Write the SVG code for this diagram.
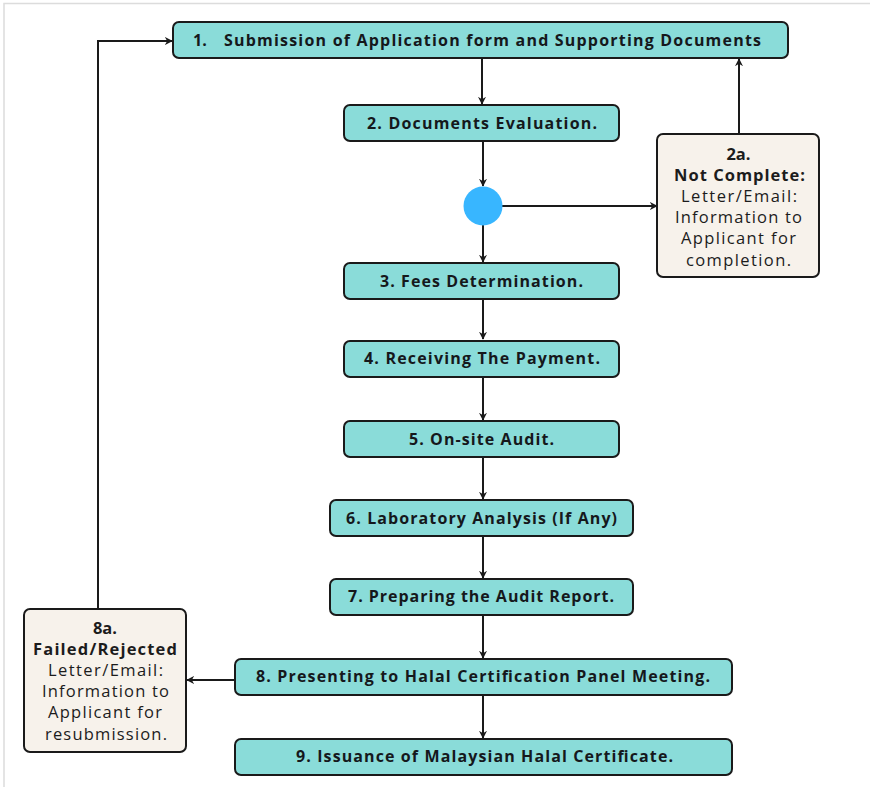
<svg xmlns="http://www.w3.org/2000/svg" width="870" height="787" viewBox="0 0 870 787">
<style>
.step{fill:#8adcd9;stroke:#1a1a1a;stroke-width:2}
.note{fill:#f7f2eb;stroke:#1a1a1a;stroke-width:2}
.t{font-family:"Open Sans","DejaVu Sans",sans-serif;font-size:16px;font-weight:bold;fill:#15181c;text-anchor:middle}
.s{text-anchor:start}
.n{font-family:"Open Sans","DejaVu Sans",sans-serif;font-size:16.5px;fill:#1c1c1c;text-anchor:middle}
.nb{font-weight:bold}
.c{fill:none;stroke:#1a1a1a;stroke-width:2}
</style>
<defs>
<marker id="ah" viewBox="0 0 10 10" refX="9" refY="5" markerWidth="4" markerHeight="4" orient="auto-start-reverse" markerUnits="strokeWidth">
<path d="M0,0 L10,5 L0,10 L3,5 Z" fill="#1a1a1a"/>
</marker>
</defs>
<rect width="870" height="787" fill="#fff"/>
<path d="M4,787 V3.5 H870" fill="none" stroke="#dcdcdc" stroke-width="1.5"/>
<g id="connectors">
<line class="c" x1="482" y1="59" x2="482" y2="104" marker-end="url(#ah)"/>
<line class="c" x1="483" y1="142" x2="483" y2="186" marker-end="url(#ah)"/>
<line class="c" x1="483" y1="225" x2="483" y2="262" marker-end="url(#ah)"/>
<line class="c" x1="502" y1="206" x2="657" y2="206" marker-end="url(#ah)"/>
<line class="c" x1="739" y1="134" x2="739" y2="59" marker-end="url(#ah)"/>
<line class="c" x1="483" y1="300" x2="483" y2="339" marker-end="url(#ah)"/>
<line class="c" x1="483" y1="378" x2="483" y2="420" marker-end="url(#ah)"/>
<line class="c" x1="483" y1="458" x2="483" y2="499" marker-end="url(#ah)"/>
<line class="c" x1="483" y1="537" x2="483" y2="578" marker-end="url(#ah)"/>
<line class="c" x1="483" y1="616" x2="483" y2="658" marker-end="url(#ah)"/>
<line class="c" x1="483" y1="696" x2="483" y2="738" marker-end="url(#ah)"/>
<line class="c" x1="235" y1="680" x2="187" y2="680" marker-end="url(#ah)"/>
<polyline class="c" points="98,609 98,41 172,41" marker-end="url(#ah)"/>
</g>
<g id="n1">
<rect class="step" x="173" y="22" width="615" height="36" rx="6"/>
<text class="t s" x="193" y="45.5">1.</text>
<text class="t s" x="224" y="45.5" textLength="537" lengthAdjust="spacing">Submission of Application form and Supporting Documents</text>
</g>
<g id="n2">
<rect class="step" x="344" y="105" width="275" height="36" rx="6"/>
<text class="t" x="482" y="128.5" textLength="230" lengthAdjust="spacing">2. Documents Evaluation.</text>
</g>
<g id="decision">
<circle cx="483" cy="206" r="19.5" fill="#38b6ff"/>
</g>
<g id="n2a">
<rect class="note" x="657" y="134" width="162" height="143" rx="6"/>
<text class="n nb" x="738.5" y="160">2a.</text>
<text class="n nb" x="739.5" y="181" textLength="131" lengthAdjust="spacing">Not Complete:</text>
<text class="n" x="739" y="202" textLength="116" lengthAdjust="spacing">Letter/Email:</text>
<text class="n" x="738.5" y="223" textLength="127" lengthAdjust="spacing">Information to</text>
<text class="n" x="738.5" y="244" textLength="115" lengthAdjust="spacing">Applicant for</text>
<text class="n" x="738.5" y="266" textLength="105" lengthAdjust="spacing">completion.</text>
</g>
<g id="n3">
<rect class="step" x="344" y="263" width="275" height="36" rx="6"/>
<text class="t" x="481.5" y="286.5" textLength="203" lengthAdjust="spacing">3. Fees Determination.</text>
</g>
<g id="n4">
<rect class="step" x="344" y="341" width="275" height="36" rx="6"/>
<text class="t" x="482" y="364" textLength="236" lengthAdjust="spacing">4. Receiving The Payment.</text>
</g>
<g id="n5">
<rect class="step" x="344" y="421" width="275" height="36" rx="6"/>
<text class="t" x="481.5" y="444.5" textLength="145" lengthAdjust="spacing">5. On-site Audit.</text>
</g>
<g id="n6">
<rect class="step" x="330" y="500" width="303" height="36" rx="6"/>
<text class="t" x="481.5" y="523.5" textLength="271" lengthAdjust="spacing">6. Laboratory Analysis (If Any)</text>
</g>
<g id="n7">
<rect class="step" x="330" y="579" width="303" height="36" rx="6"/>
<text class="t" x="481" y="602" textLength="266" lengthAdjust="spacing">7. Preparing the Audit Report.</text>
</g>
<g id="n8">
<rect class="step" x="235" y="659" width="497" height="36" rx="6"/>
<text class="t" x="483" y="682" textLength="454" lengthAdjust="spacing">8. Presenting to Halal Certification Panel Meeting.</text>
</g>
<g id="n9">
<rect class="step" x="235" y="739" width="497" height="36" rx="6"/>
<text class="t" x="484.5" y="762" textLength="377" lengthAdjust="spacing">9. Issuance of Malaysian Halal Certificate.</text>
</g>
<g id="n8a">
<rect class="note" x="24" y="609" width="162" height="143" rx="6"/>
<text class="n nb" x="105" y="634">8a.</text>
<text class="n nb" x="105" y="655" textLength="144" lengthAdjust="spacing">Failed/Rejected</text>
<text class="n" x="105.5" y="676" textLength="115" lengthAdjust="spacing">Letter/Email:</text>
<text class="n" x="105.5" y="697" textLength="127" lengthAdjust="spacing">Information to</text>
<text class="n" x="105" y="718" textLength="114" lengthAdjust="spacing">Applicant for</text>
<text class="n" x="106" y="740" textLength="122" lengthAdjust="spacing">resubmission.</text>
</g>
</svg>
